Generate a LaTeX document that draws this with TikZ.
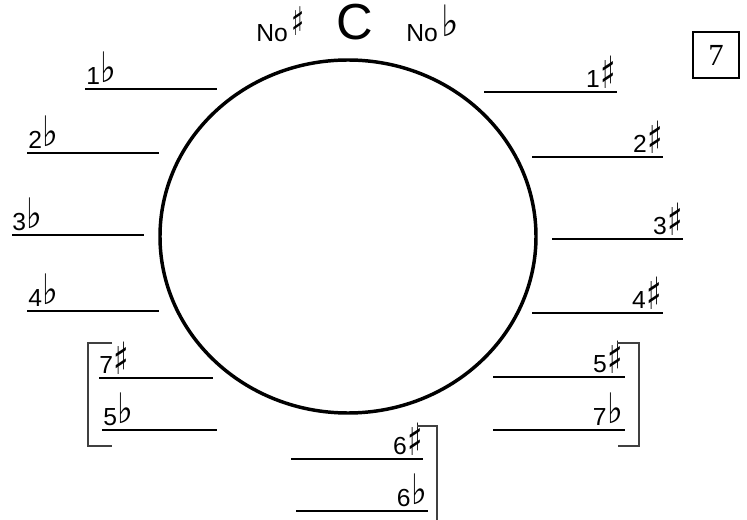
\documentclass[tikz,border=0pt]{standalone}
\usepackage{fontspec}
\setmainfont{Liberation Sans}
\newfontfamily\symf{DejaVu Sans}
\newfontfamily\serf{Liberation Serif}
\newcommand\shp{\kern0.3pt{\symf\raisebox{-0.04em}{\scalebox{1.3}[1.8]{♯}}}}
\newcommand\flt{\kern0.3pt{\symf\raisebox{0.08em}{\scalebox{1.35}[1.7]{♭}}}}
\newcommand\tshp{{\symf\raisebox{0.25em}{\scalebox{1.1}[1.6]{♯}}}}
\newcommand\tflt{{\symf\raisebox{0.22em}{\scalebox{1.5}[1.75]{♭}}}}
\begin{document}
\begin{tikzpicture}[x=0.75pt,y=-0.75pt,
  ln/.style={line width=1.9pt},
  brk/.style={line width=0.9pt, draw=black!75},
  lab/.style={inner sep=0pt, font=\fontsize{18.5}{18.5}\selectfont},
  labl/.style={lab, anchor=base west},
  labr/.style={lab, anchor=base east},
  toptxt/.style={inner sep=0pt, font=\fontsize{18.5}{18.5}\selectfont, anchor=base west}]
\useasboundingbox (0,0) rectangle (747,520);
% circle
\draw[line width=2.6pt] (348,236.5) ellipse [x radius=188, y radius=176.5];
% top texts
\node[toptxt] (nosharp) at (256,42) {No\,\tshp};
\node[inner sep=0pt, anchor=base, font=\fontsize{38}{38}\selectfont] (cc) at (355,40) {C};
\node[toptxt] (noflat) at (406,42) {No\,\tflt};
% box 7
\node[draw, line width=1pt, inner sep=0pt, minimum width=34.5pt, minimum height=34.5pt,
  font=\serf\fontsize{23}{23}\selectfont] (box) at (716,55) {7};
% left lines
\draw[ln] (85,89) -- (217,89);   \node[labl] (l1b) at (86,84.5) {1\flt};
\draw[ln] (27,153) -- (159,153); \node[labl] (l2b) at (28,148.5) {2\flt};
\draw[ln] (12,235) -- (144,235); \node[labl] (l3b) at (12,230.5) {3\flt};
\draw[ln] (27,311) -- (159,311); \node[labl] (l4b) at (28,306.5) {4\flt};
\draw[ln] (99,378) -- (213,378); \node[labl] (l7s) at (99,373.5) {7\shp};
\draw[ln] (102,430) -- (217,430); \node[labl] (l5b) at (103,425.5) {5\flt};
% right lines
\draw[ln] (484,92) -- (617,92);  \node[labr] (r1s) at (616,87.5) {1\shp};
\draw[ln] (532,157) -- (663,157); \node[labr] (r2s) at (663,152.5) {2\shp};
\draw[ln] (552,239) -- (683,239); \node[labr] (r3s) at (683,234.5) {3\shp};
\draw[ln] (532,313) -- (663,313); \node[labr] (r4s) at (662,308.5) {4\shp};
\draw[ln] (493,377) -- (625,377); \node[labr] (r5s) at (623,372.5) {5\shp};
\draw[ln] (493,430) -- (625,430); \node[labr] (r7b) at (623,425.5) {7\flt};
% bottom lines
\draw[ln] (291,459) -- (423,459); \node[labr] (b6s) at (423,454.5) {6\shp};
\draw[ln] (296,511) -- (428,511); \node[labr] (b6b) at (427,506.5) {6\flt};
% brackets
\draw[brk] (112,343) -- (88,343) -- (88,446) -- (112,446);
\draw[brk] (617,343) -- (639,343) -- (639,446) -- (618,446);
\draw[brk] (417,426) -- (437,426) -- (437,520);
\end{tikzpicture}
\end{document}
